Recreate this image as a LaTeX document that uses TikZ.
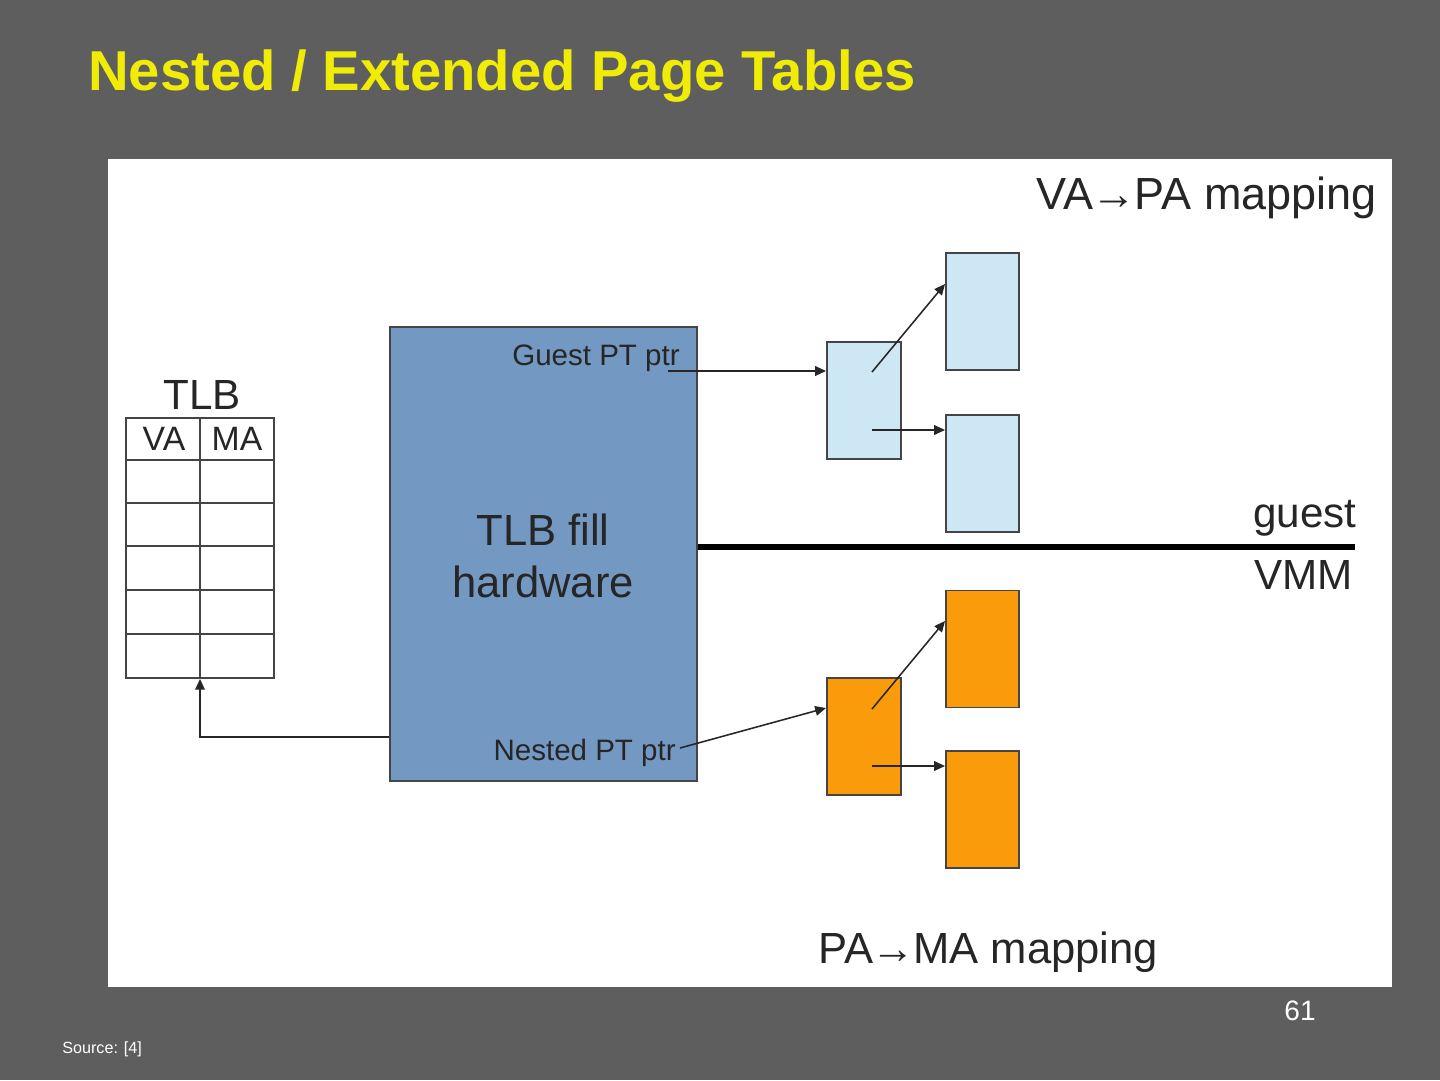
\documentclass[tikz,border=0pt]{standalone}
\usepackage{fontspec}
\setmainfont{Liberation Sans}
\usetikzlibrary{arrows.meta}
\definecolor{bgc}{HTML}{5E5E5E}
\definecolor{ttl}{HTML}{F0EC05}
\definecolor{hwc}{HTML}{7398C2}
\definecolor{lbc}{HTML}{CDE8F4}
\definecolor{orc}{HTML}{F99B0B}
\definecolor{txc}{HTML}{262626}
\definecolor{edc}{HTML}{454545}
\tikzset{
  fs/.style={font=\fontsize{#1}{#1}\selectfont},
  pagebox/.style={draw=edc, line width=1.4pt, inner sep=0pt},
  arr/.style={draw=txc, line width=1.1pt, -{Triangle[length=0.27cm,width=0.24cm]}},
  lbl/.style={text=txc, inner sep=0pt},
}
\begin{document}
\begin{tikzpicture}[x=0.025cm,y=-0.025cm]
\fill[bgc] (0,0) rectangle (1440,1080);
\useasboundingbox (0,0) rectangle (1440,1080);
\fill[white] (108,159) rectangle (1392,987);

% title
\node[anchor=base west, text=ttl, inner sep=0pt, font=\bfseries\fontsize{40}{40}\selectfont] (title) at (88,90) {Nested / Extended Page Tables};

% TLB table
\node[lbl, fs=30, anchor=base] (tlbl) at (202,409) {TLB};
\node[draw=edc, line width=1.3pt, minimum width=148*0.025cm, minimum height=260*0.025cm, inner sep=0pt] (tlb) at (200,548) {};
\foreach \yy in {460,503,546,590,634} {\draw[edc, line width=1.3pt] (tlb.west |- 0,\yy) -- (tlb.east |- 0,\yy);}
\draw[edc, line width=1.3pt] (tlb.north) -- (tlb.south);
\node[lbl, fs=24, anchor=base] (va) at (164,450) {VA};
\node[lbl, fs=24, anchor=base] (ma) at (237,450) {MA};

% TLB fill hardware
\node[draw=edc, line width=1.4pt, fill=hwc, minimum width=307*0.025cm, minimum height=454*0.025cm, inner sep=0pt] (hw) at (543.5,554) {};
\node[lbl, align=center, font=\fontsize{31}{37}\selectfont] (hwt) at (543,556) {TLB fill\\hardware};
\node[lbl, fs=21, anchor=base east] (gpt) at (680,365) {Guest PT ptr};
\node[lbl, fs=21, anchor=base east] (npt) at (676,760) {Nested PT ptr};

% guest page tables
\node[pagebox, fill=lbc, minimum width=74*0.025cm, minimum height=117*0.025cm] (gs) at (864,400.5) {};
\node[pagebox, fill=lbc, minimum width=73*0.025cm, minimum height=117*0.025cm] (gb1) at (982.5,311.5) {};
\node[pagebox, fill=lbc, minimum width=73*0.025cm, minimum height=117*0.025cm] (gb2) at (982.5,473.5) {};
% nested page tables
\node[pagebox, fill=orc, minimum width=74*0.025cm, minimum height=117*0.025cm] (os) at (864,736.5) {};
\node[pagebox, fill=orc, minimum width=73*0.025cm, minimum height=117*0.025cm] (ob1) at (982.5,649) {};
\node[pagebox, fill=orc, minimum width=73*0.025cm, minimum height=117*0.025cm] (ob2) at (982.5,809.5) {};

% coordinates for connector start points
\coordinate (g0) at (668,371);
\coordinate (n0) at (680,748);
\coordinate (gi1) at (872,372);
\coordinate (gi2) at (872,430);
\coordinate (oi1) at (872,709);
\coordinate (oi2) at (872,766);
\coordinate (lineend) at (1355,547);

% connectors
\draw[arr] (g0) -- (g0 -| gs.west);
\draw[arr] (n0) -- (os.west |- 0,708);
\draw[arr] (gi1) -- (gb1.west |- 0,284);
\draw[arr] (gi2) -- (gi2 -| gb2.west);
\draw[arr] (oi1) -- (ob1.west |- 0,621);
\draw[arr] (oi2) -- (oi2 -| ob2.west);
\draw[arr] (hw.west |- 0,737) -| (tlb.south);

% guest / VMM divider
\draw[black, line width=4.3pt] (hw.east |- lineend) -- (lineend);
\node[lbl, fs=30, anchor=base east] (guest) at (1357,527) {guest};
\node[lbl, fs=30, anchor=base east] (vmm) at (1353,589) {VMM};

\node[lbl, fs=32, anchor=base east] (vapa) at (1377,209) {VA\kern-0.04em→\kern-0.04emPA mapping};
\node[lbl, fs=31, anchor=base west] (pama) at (818,963) {PA\kern-0.04em→\kern-0.04emMA mapping};

% footer
\node[anchor=base east, text=white, inner sep=0pt, fs=20] (pg) at (1316,1020) {61};
\node[anchor=base west, text=white, inner sep=0pt, fs=11.5] (src) at (62,1053) {Source: [4]};
\end{tikzpicture}
\end{document}
